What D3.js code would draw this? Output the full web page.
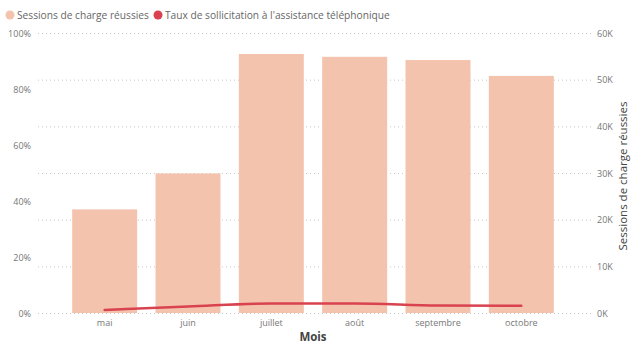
<!DOCTYPE html>
<html>
<head>
<meta charset="utf-8">
<script src="https://cdn.jsdelivr.net/npm/d3@7"></script>
<style>
  body { margin: 0; background: #fff; }
  text { font-family: "Open Sans", "Noto Sans", sans-serif; }
</style>
</head>
<body>
<div id="chart"></div>
<script>
// données
var mois = ["mai", "juin", "juillet", "août", "septembre", "octobre"];
var sessions = [22200, 29900, 55500, 54900, 54200, 50800];
var taux = [0.011, 0.023, 0.034, 0.034, 0.027, 0.026];
var ticksGauche = [0, 0.2, 0.4, 0.6, 0.8, 1];
var ticksDroite = [0, 10000, 20000, 30000, 40000, 50000, 60000];

var w = 631, h = 343;
var yHaut = 33, yBas = 313;
var barColor = "#f4c3ad", lineColor = "#d9434f";

var svg = d3.select("#chart").append("svg")
  .attr("width", w)
  .attr("height", h);

var x = d3.scaleBand()
  .domain(mois)
  .range([38, 588])
  .paddingInner(0.22)
  .paddingOuter(0.41);

var yPct = d3.scaleLinear().domain([0, 1]).range([yBas, yHaut]);
var yNum = d3.scaleLinear().domain([0, 60000]).range([yBas, yHaut]);

// lignes de grille (axe de droite)
svg.append("g")
  .selectAll("line")
  .data(ticksDroite)
  .enter()
  .append("line")
  .attr("x1", 38).attr("x2", 591)
  .attr("y1", d => yNum(d) + 0.5).attr("y2", d => yNum(d) + 0.5)
  .attr("stroke", "#c8c8c8")
  .attr("stroke-width", 1)
  .attr("stroke-dasharray", "1,3");

// barres
svg.append("g")
  .selectAll("rect")
  .data(sessions)
  .enter()
  .append("rect")
  .attr("x", (d, i) => x(mois[i]))
  .attr("y", d => yNum(d))
  .attr("width", x.bandwidth())
  .attr("height", d => yBas - yNum(d))
  .attr("fill", barColor);

// ligne
var line = d3.line()
  .x((d, i) => x(mois[i]) + x.bandwidth() / 2)
  .y(d => yPct(d))
  .curve(d3.curveMonotoneX);

svg.append("path")
  .datum(taux)
  .attr("d", line)
  .attr("fill", "none")
  .attr("stroke", lineColor)
  .attr("stroke-width", 2.5)
  .attr("stroke-linecap", "round");

// axe gauche
svg.append("g")
  .selectAll("text")
  .data(ticksGauche)
  .enter()
  .append("text")
  .attr("x", 31)
  .attr("y", d => yPct(d) + 3.5)
  .attr("text-anchor", "end")
  .attr("font-size", 9)
  .attr("fill", "#777")
  .text(d => Math.round(d * 100) + "%");

// axe droit
svg.append("g")
  .selectAll("text")
  .data(ticksDroite)
  .enter()
  .append("text")
  .attr("x", 597)
  .attr("y", d => yNum(d) + 3.5)
  .attr("font-size", 9)
  .attr("fill", "#777")
  .text(d => (d / 1000) + "K");

svg.append("text")
  .attr("transform", "translate(627,176) rotate(-90)")
  .attr("text-anchor", "middle")
  .attr("font-size", 11.5)
  .attr("fill", "#444")
  .text("Sessions de charge réussies");

// axe x
svg.append("g")
  .selectAll("text")
  .data(mois)
  .enter()
  .append("text")
  .attr("x", d => x(d) + x.bandwidth() / 2)
  .attr("y", 326)
  .attr("text-anchor", "middle")
  .attr("font-size", 9)
  .attr("fill", "#777")
  .text(d => d);

svg.append("text")
  .attr("x", 313)
  .attr("y", 341)
  .attr("text-anchor", "middle")
  .attr("font-size", 11.5)
  .attr("font-weight", "bold")
  .attr("fill", "#444")
  .text("Mois");

// légende
var legende = [
  {label: "Sessions de charge réussies", color: barColor, x: 10},
  {label: "Taux de sollicitation à l'assistance téléphonique", color: lineColor, x: 158}
];
var lg = svg.append("g").selectAll("g")
  .data(legende)
  .enter()
  .append("g");
lg.append("circle")
  .attr("cx", d => d.x)
  .attr("cy", 15)
  .attr("r", 4.5)
  .attr("fill", d => d.color);
lg.append("text")
  .attr("x", d => d.x + 7)
  .attr("y", 19)
  .attr("font-size", 10.2)
  .attr("fill", "#666")
  .text(d => d.label);
</script>
</body>
</html>
